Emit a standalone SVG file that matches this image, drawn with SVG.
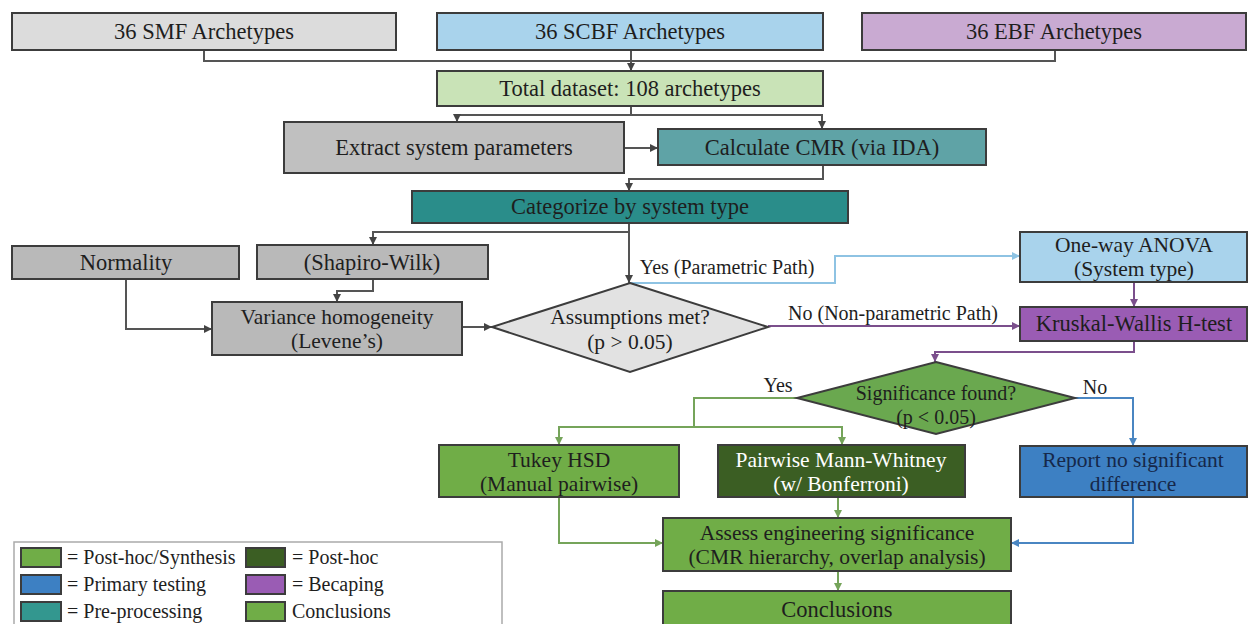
<svg xmlns="http://www.w3.org/2000/svg" width="1248" height="624" viewBox="0 0 1248 624">
<style>
  text { font-family: "Liberation Serif", "Times New Roman", serif; fill: #1e1e1e; text-anchor: middle; }
  .t { font-size: 22.5px; }
  .t2 { font-size: 21.5px; }
  .l { font-size: 20px; }
  .lg { font-size: 20px; text-anchor: start; }
  .box { stroke: #3c3c3c; stroke-width: 2; }
  .c { fill: none; stroke-width: 2; }
  .gray { stroke: #555555; }
  .lblue { stroke: #8ec3e3; }
  .purp { stroke: #7b4f8c; }
  .grn { stroke: #75a45a; }
  .blu { stroke: #4a86c2; }
</style>
<defs>
  <marker id="aGray" viewBox="0 0 10 10" refX="10" refY="5" markerWidth="8" markerHeight="8" markerUnits="userSpaceOnUse" orient="auto"><path d="M0,0 L10,5 L0,10 z" fill="#444"/></marker>
  <marker id="aLblue" viewBox="0 0 10 10" refX="10" refY="5" markerWidth="8" markerHeight="8" markerUnits="userSpaceOnUse" orient="auto"><path d="M0,0 L10,5 L0,10 z" fill="#8ec3e3"/></marker>
  <marker id="aPurp" viewBox="0 0 10 10" refX="10" refY="5" markerWidth="8" markerHeight="8" markerUnits="userSpaceOnUse" orient="auto"><path d="M0,0 L10,5 L0,10 z" fill="#7b4f8c"/></marker>
  <marker id="aGrn" viewBox="0 0 10 10" refX="10" refY="5" markerWidth="8" markerHeight="8" markerUnits="userSpaceOnUse" orient="auto"><path d="M0,0 L10,5 L0,10 z" fill="#75a45a"/></marker>
  <marker id="aBlu" viewBox="0 0 10 10" refX="10" refY="5" markerWidth="8" markerHeight="8" markerUnits="userSpaceOnUse" orient="auto"><path d="M0,0 L10,5 L0,10 z" fill="#4a86c2"/></marker>
</defs>
<rect x="0" y="0" width="1248" height="624" fill="#ffffff"/>

<g id="connectors">
  <path class="c gray" d="M204,50 V61 H1055 V50"/>
  <path class="c gray" d="M631,50 V71" marker-end="url(#aGray)"/>
  <path class="c gray" d="M631,106 V115 H457 V122" marker-end="url(#aGray)"/>
  <path class="c gray" d="M631,115 H822 V129" marker-end="url(#aGray)"/>
  <path class="c gray" d="M624,148 H658" marker-end="url(#aGray)"/>
  <path class="c gray" d="M823,165 V179 H629 V191" marker-end="url(#aGray)"/>
  <path class="c gray" d="M629,223 V283" marker-end="url(#aGray)"/>
  <path class="c gray" d="M629,232 H373 V245" marker-end="url(#aGray)"/>
  <path class="c gray" d="M373,279 V291 H337 V302" marker-end="url(#aGray)"/>
  <path class="c gray" d="M126,279 V329 H212" marker-end="url(#aGray)"/>
  <path class="c gray" d="M462,327 H492" marker-end="url(#aGray)"/>
  <path class="c lblue" d="M630,283 H835 V256 H1020" marker-end="url(#aLblue)"/>
  <path class="c purp" d="M768,326 H1020" marker-end="url(#aPurp)"/>
  <path class="c purp" d="M1134,282 V307" marker-end="url(#aPurp)"/>
  <path class="c purp" d="M1134,341 V352 H935 V362" marker-end="url(#aPurp)"/>
  <path class="c grn" d="M797,398 H694 V427"/>
  <path class="c grn" d="M694,427 H559 V445" marker-end="url(#aGrn)"/>
  <path class="c grn" d="M694,427 H842 V445" marker-end="url(#aGrn)"/>
  <path class="c blu" d="M1075,398 H1133 V446" marker-end="url(#aBlu)"/>
  <path class="c grn" d="M559,497 V543 H663" marker-end="url(#aGrn)"/>
  <path class="c grn" d="M838,497 V518" marker-end="url(#aGrn)"/>
  <path class="c blu" d="M1133,497 V543 H1011" marker-end="url(#aBlu)"/>
  <path class="c grn" d="M838,571 V591" marker-end="url(#aGrn)"/>
  <text class="l" x="727" y="274">Yes (Parametric Path)</text>
  <text class="l" x="893" y="320">No (Non-parametric Path)</text>
  <text class="l" x="778" y="392">Yes</text>
  <text class="l" x="1095" y="394">No</text>
</g>

<g id="smf"><rect class="box" x="12" y="13" width="384" height="37" fill="#dcdcdc"/><text class="t" x="204" y="39">36 SMF Archetypes</text></g>
<g id="scbf"><rect class="box" x="437" y="13" width="386" height="37" fill="#a9d3ec"/><text class="t" x="630" y="39">36 SCBF Archetypes</text></g>
<g id="ebf"><rect class="box" x="862" y="13" width="384" height="37" fill="#c9aad2"/><text class="t" x="1054" y="39">36 EBF Archetypes</text></g>
<g id="total"><rect class="box" x="437" y="71" width="386" height="35" fill="#c9e3b7"/><text class="t" x="630" y="96">Total dataset: 108 archetypes</text></g>
<g id="extract"><rect class="box" x="284" y="122" width="340" height="51" fill="#c0c0c0"/><text class="t" x="454" y="155">Extract system parameters</text></g>
<g id="calc"><rect class="box" x="658" y="129" width="328" height="36" fill="#5fa3a6"/><text class="t" x="822" y="155">Calculate CMR (via IDA)</text></g>
<g id="categorize"><rect class="box" x="412" y="191" width="436" height="32" fill="#2a8d8a"/><text class="t" x="630" y="214">Categorize by system type</text></g>
<g id="normality"><rect class="box" x="12" y="246" width="227" height="33" fill="#b9b9b9"/><text class="t" x="126" y="270">Normality</text></g>
<g id="shapiro"><rect class="box" x="257" y="245" width="231" height="34" fill="#b9b9b9"/><text class="t" x="372" y="270">(Shapiro-Wilk)</text></g>
<g id="variance"><rect class="box" x="212" y="302" width="250" height="53" fill="#b9b9b9"/><text class="t2" x="337" y="324">Variance homogeneity</text><text class="t2" x="337" y="348">(Levene’s)</text></g>
<g id="assumptions"><polygon class="box" points="630,283 768,327 630,372 492,327" fill="#e2e2e2"/><text class="t2" x="630" y="324">Assumptions met?</text><text class="t2" x="630" y="349">(p &gt; 0.05)</text></g>
<g id="anova"><rect class="box" x="1020" y="232" width="227" height="50" fill="#a9d3ec"/><text class="t2" x="1134" y="252">One-way ANOVA</text><text class="t2" x="1134" y="276">(System type)</text></g>
<g id="kruskal"><rect class="box" x="1020" y="307" width="227" height="34" fill="#9a5cb4"/><text class="t" x="1134" y="331">Kruskal-Wallis H-test</text></g>
<g id="significance"><polygon class="box" points="936,362 1075,398 936,434 797,398" fill="#6aa84f"/><text class="l" x="936" y="400">Significance found?</text><text class="l" x="936" y="424">(p &lt; 0.05)</text></g>
<g id="tukey"><rect class="box" x="439" y="445" width="240" height="52" fill="#70ad47"/><text class="t2" x="559" y="467">Tukey HSD</text><text class="t2" x="559" y="491">(Manual pairwise)</text></g>
<g id="pairwise"><rect class="box" x="718" y="445" width="247" height="52" fill="#3b5e23"/><text class="t2" x="841" y="467" style="fill:#ffffff">Pairwise Mann-Whitney</text><text class="t2" x="841" y="491" style="fill:#ffffff">(w/ Bonferroni)</text></g>
<g id="report"><rect class="box" x="1020" y="446" width="227" height="51" fill="#3d80c3"/><text class="t2" x="1133" y="467" style="fill:#16284a">Report no significant</text><text class="t2" x="1133" y="491" style="fill:#16284a">difference</text></g>
<g id="assess"><rect class="box" x="663" y="518" width="348" height="53" fill="#70ad47"/><text class="t2" x="837" y="540">Assess engineering significance</text><text class="t2" x="837" y="564">(CMR hierarchy, overlap analysis)</text></g>
<g id="conclusions"><rect class="box" x="663" y="591" width="348" height="40" fill="#70ad47"/><text class="t" x="837" y="617">Conclusions</text></g>

<g id="legend">
  <rect x="14" y="542" width="488" height="90" fill="#ffffff" stroke="#aaaaaa" stroke-width="1.5"/>
  <rect class="box" x="21" y="548" width="40" height="19" fill="#70ad47"/>
  <text class="lg" x="67" y="564">= Post-hoc/Synthesis</text>
  <rect class="box" x="246" y="548" width="39" height="19" fill="#3b5e23"/>
  <text class="lg" x="292" y="564">= Post-hoc</text>
  <rect class="box" x="21" y="575" width="40" height="19" fill="#3d80c3"/>
  <text class="lg" x="67" y="591">= Primary testing</text>
  <rect class="box" x="246" y="575" width="39" height="19" fill="#9a5cb4"/>
  <text class="lg" x="292" y="591">= Becaping</text>
  <rect class="box" x="21" y="602" width="40" height="19" fill="#33978f"/>
  <text class="lg" x="67" y="618">= Pre-processing</text>
  <rect class="box" x="246" y="602" width="39" height="19" fill="#70ad47"/>
  <text class="lg" x="292" y="618">Conclusions</text>
</g>
</svg>
